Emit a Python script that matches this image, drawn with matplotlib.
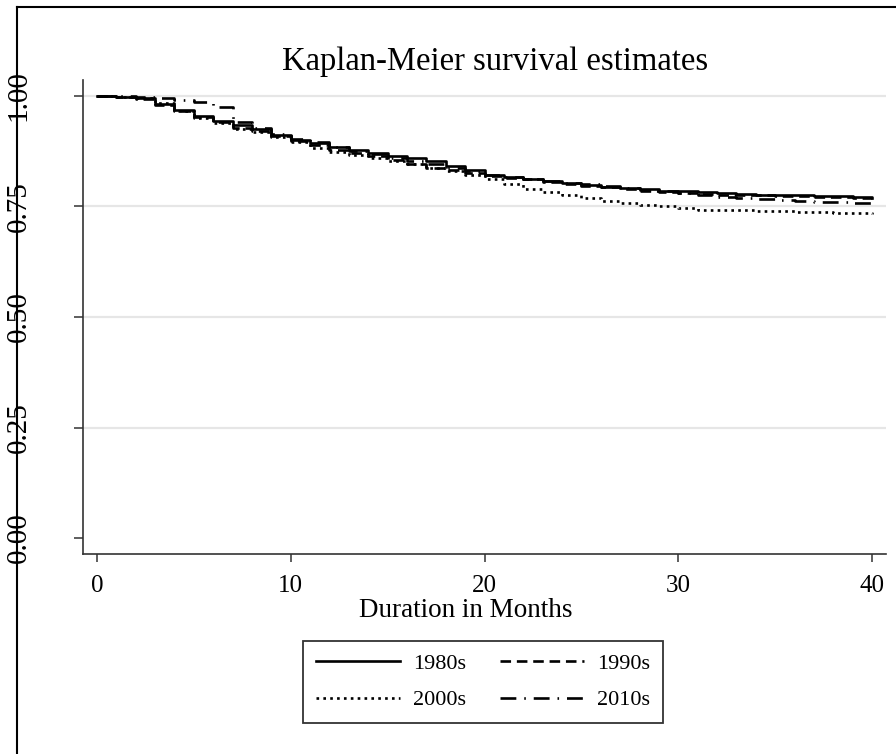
import matplotlib
matplotlib.use("Agg")
import matplotlib.pyplot as plt
from matplotlib.lines import Line2D

plt.rcParams['font.family'] = ['Liberation Serif', 'DejaVu Serif']

months = [0, 1, 2, 3, 4, 5, 6, 7, 8, 9, 10, 11, 12, 13, 14, 15, 16, 17, 18, 19, 20,
          21, 22, 23, 24, 25, 26, 27, 28, 29, 30, 31, 32, 33, 34, 35, 36, 37, 38, 39, 40]

surv_1980s = [1.000, 0.998, 0.995, 0.982, 0.968, 0.955, 0.943, 0.935, 0.925, 0.912, 0.900,
              0.893, 0.885, 0.878, 0.871, 0.865, 0.859, 0.852, 0.842, 0.832, 0.822,
              0.816, 0.811, 0.807, 0.803, 0.799, 0.795, 0.792, 0.789, 0.786, 0.784,
              0.782, 0.780, 0.779, 0.777, 0.776, 0.775, 0.774, 0.773, 0.772, 0.770]
surv_1990s = [1.000, 0.998, 0.993, 0.980, 0.965, 0.952, 0.940, 0.928, 0.920, 0.910, 0.898,
              0.888, 0.878, 0.870, 0.863, 0.855, 0.846, 0.838, 0.832, 0.826, 0.820,
              0.815, 0.811, 0.806, 0.801, 0.797, 0.793, 0.790, 0.786, 0.783, 0.780,
              0.778, 0.777, 0.776, 0.775, 0.774, 0.773, 0.772, 0.771, 0.770, 0.768]
surv_2000s = [1.000, 0.998, 0.995, 0.984, 0.966, 0.950, 0.938, 0.925, 0.918, 0.908, 0.895,
              0.883, 0.873, 0.866, 0.860, 0.853, 0.845, 0.838, 0.830, 0.822, 0.812,
              0.800, 0.790, 0.782, 0.775, 0.769, 0.763, 0.758, 0.754, 0.750, 0.746,
              0.743, 0.742, 0.741, 0.740, 0.739, 0.738, 0.737, 0.736, 0.735, 0.733]
surv_2010s = [1.000, 1.000, 0.998, 0.995, 0.990, 0.987, 0.975, 0.940, 0.928, 0.915, 0.902,
              0.895, 0.885, 0.876, 0.868, 0.860, 0.853, 0.845, 0.838, 0.830, 0.822,
              0.817, 0.812, 0.808, 0.804, 0.800, 0.796, 0.792, 0.788, 0.784, 0.780,
              0.776, 0.772, 0.769, 0.766, 0.764, 0.762, 0.760, 0.759, 0.758, 0.758]

labels = ["1980s", "1990s", "2000s", "2010s"]
y_ticks = [0.00, 0.25, 0.50, 0.75, 1.00]
y_tick_labels = ["0.00", "0.25", "0.50", "0.75", "1.00"]
x_ticks = [0, 10, 20, 30, 40]

fig = plt.figure(figsize=(8.96, 7.54), dpi=100)
ax = fig.add_axes([83/896, 1-554/754, (886-83)/896, (554-80)/754])

styles = [
    dict(linestyle='-'),
    dict(linestyle=(0, (4, 2.2))),
    dict(linestyle=(0, (1.0, 1.6))),
    dict(linestyle=(0, (6, 3, 0.6, 3))),
]
handles = []
for s, lab, st in zip([surv_1980s, surv_1990s, surv_2000s, surv_2010s], labels, styles):
    h, = ax.step(months, s, where='post', color='black', lw=1.9, label=lab, **st)
    handles.append(h)

ax.set_xlim(-0.72, 40.72)
ax.set_ylim(-0.036, 1.036)
ax.set_xticks(x_ticks)
ax.set_yticks(y_ticks)
ax.set_yticklabels(y_tick_labels, rotation=90, va='center', ha='center')
for v in [0.25, 0.50, 0.75, 1.00]:
    ax.axhline(v, color='#e6e6e6', lw=1.6, zorder=0)

for sp in ['top', 'right']:
    ax.spines[sp].set_visible(False)
for sp in ['left', 'bottom']:
    ax.spines[sp].set_color('#333333')
    ax.spines[sp].set_linewidth(1.2)
ax.tick_params(axis='x', length=6, width=1.1, color='#333333', labelsize=18, pad=9)
ax.tick_params(axis='y', length=6.5, width=1.1, color='#333333', labelsize=21, pad=40)

ax.set_xlabel("Duration in Months", fontsize=19.5)
ax.xaxis.set_label_coords((466-83)/803, (554-598)/474)
fig.text(495/896, 1-62/754, "Kaplan-Meier survival estimates", ha='center', va='center', fontsize=23.5)

# row-major legend order as in the reference: 1980s 1990s / 2000s 2010s
order = [0, 2, 1, 3]
leg = fig.legend(handles=[handles[i] for i in order], labels=[labels[i] for i in order],
                 ncol=2, loc='center',
                 bbox_to_anchor=(483/896, 1-682/754), fontsize=16, frameon=True,
                 fancybox=False, edgecolor='black', handlelength=3.8, columnspacing=1.5,
                 handletextpad=0.6, borderpad=0.55, labelspacing=0.7)
leg.get_frame().set_linewidth(1.3)

fig.add_artist(Line2D([17/896, 1], [1-7/754, 1-7/754], color='black', lw=1.5, transform=fig.transFigure))
fig.add_artist(Line2D([17/896, 17/896], [0, 1-7/754], color='black', lw=1.5, transform=fig.transFigure))

fig.savefig("out.png", dpi=100)
